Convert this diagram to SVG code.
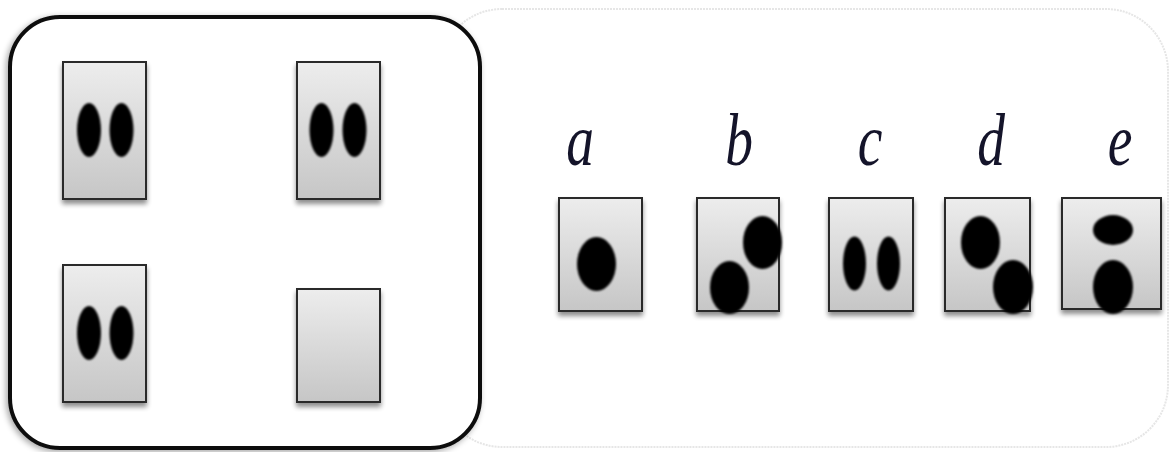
<svg xmlns="http://www.w3.org/2000/svg" width="1174" height="452" viewBox="0 0 1174 452">
<defs>
<linearGradient id="cardGrad" x1="0" y1="0" x2="0" y2="1">
<stop offset="0" stop-color="#ededed"/>
<stop offset="1" stop-color="#c6c6c6"/>
</linearGradient>
<filter id="shadow" x="-20%" y="-20%" width="140%" height="150%">
<feGaussianBlur in="SourceAlpha" stdDeviation="2.5"/>
<feOffset dx="0" dy="4" result="b"/>
<feComponentTransfer><feFuncA type="linear" slope="0.45"/></feComponentTransfer>
<feMerge><feMergeNode/><feMergeNode in="SourceGraphic"/></feMerge>
</filter>
<filter id="soft" x="-5%" y="-5%" width="110%" height="110%">
<feGaussianBlur in="SourceAlpha" stdDeviation="3"/>
<feOffset dx="-2" dy="2"/>
<feComponentTransfer><feFuncA type="linear" slope="0.35"/></feComponentTransfer>
<feMerge><feMergeNode/><feMergeNode in="SourceGraphic"/></feMerge>
</filter>
<filter id="blurDot" x="-20%" y="-20%" width="140%" height="140%">
<feGaussianBlur stdDeviation="0.8"/>
</filter>
</defs>
<style>
.card{fill:url(#cardGrad);stroke:#2a2a2a;stroke-width:2;filter:url(#shadow)}
.dot{fill:#000;filter:url(#blurDot)}
.lbl{font-family:"Liberation Serif","DejaVu Serif",serif;font-style:italic;font-size:74px;fill:#14142a;text-anchor:middle}
</style>
<rect width="1174" height="452" fill="#ffffff"/>
<rect x="440" y="9" width="728" height="438" rx="62" fill="#ffffff" stroke="#e6e6e6" stroke-width="2" stroke-dasharray="2 1"/>
<g id="frame">
<rect x="10" y="17" width="470" height="431" rx="50" fill="#ffffff" stroke="#0d0d0d" stroke-width="4" filter="url(#soft)"/>
</g>
<g id="card-tl">
<rect class="card" x="63" y="62" width="83" height="137"/>
<ellipse class="dot" cx="89" cy="130" rx="12" ry="27"/>
<ellipse class="dot" cx="121.5" cy="130" rx="12" ry="27"/>
</g>
<g id="card-tr">
<rect class="card" x="297" y="62" width="83" height="137"/>
<ellipse class="dot" cx="321.5" cy="130" rx="12" ry="27"/>
<ellipse class="dot" cx="354.5" cy="130" rx="12" ry="27"/>
</g>
<g id="card-bl">
<rect class="card" x="63" y="265" width="83" height="137"/>
<ellipse class="dot" cx="89" cy="333" rx="12" ry="27"/>
<ellipse class="dot" cx="121.5" cy="333" rx="12" ry="27"/>
</g>
<g id="card-br">
<rect class="card" x="297" y="289" width="83" height="113"/>
</g>
<g id="option-a">
<text class="lbl" transform="translate(580,165) scale(0.75,1)">a</text>
<rect class="card" x="559" y="198" width="83" height="113"/>
<ellipse class="dot" cx="596.5" cy="264" rx="19.5" ry="27"/>
</g>
<g id="option-b">
<text class="lbl" transform="translate(739,165) scale(0.75,1)">b</text>
<rect class="card" x="697" y="198" width="82" height="113"/>
<ellipse class="dot" cx="762.5" cy="242.5" rx="19.5" ry="26.5"/>
<ellipse class="dot" cx="729.5" cy="287.5" rx="19.5" ry="26.5"/>
</g>
<g id="option-c">
<text class="lbl" transform="translate(870,165) scale(0.75,1)">c</text>
<rect class="card" x="829" y="198" width="84" height="113"/>
<ellipse class="dot" cx="854.5" cy="263.5" rx="11.5" ry="27"/>
<ellipse class="dot" cx="888.5" cy="263.5" rx="11.5" ry="27"/>
</g>
<g id="option-d">
<text class="lbl" transform="translate(991,165) scale(0.75,1)">d</text>
<rect class="card" x="945" y="198" width="85" height="113"/>
<ellipse class="dot" cx="980.5" cy="242.5" rx="19.5" ry="26.5"/>
<ellipse class="dot" cx="1013" cy="287" rx="20" ry="27"/>
</g>
<g id="option-e">
<text class="lbl" transform="translate(1120,165) scale(0.75,1)">e</text>
<rect class="card" x="1062" y="198" width="99" height="111"/>
<ellipse class="dot" cx="1113" cy="230" rx="20" ry="15"/>
<ellipse class="dot" cx="1113" cy="287" rx="20" ry="27"/>
</g>
</svg>
